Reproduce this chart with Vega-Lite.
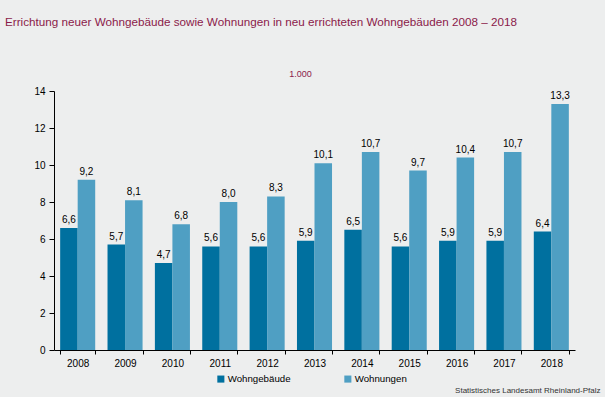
{
  "$schema": "https://vega.github.io/schema/vega-lite/v6.json",
  "width": 521,
  "height": 259,
  "autosize": {"type": "none"},
  "padding": {"left": 54, "top": 91, "right": 30, "bottom": 47},
  "background": "#edeeee",
  "title": {
    "text": "Errichtung neuer Wohngebäude sowie Wohnungen in neu errichteten Wohngebäuden 2008 – 2018",
    "anchor": "start",
    "frame": "group",
    "dx": -49,
    "offset": 40,
    "font": "Liberation Sans",
    "fontSize": 11.7,
    "fontWeight": "normal",
    "color": "#8b1a4a"
  },
  "data": {
    "values": [
      {"Jahr": "2008", "Serie": "Wohngebäude", "Wert": 6.6},
      {"Jahr": "2008", "Serie": "Wohnungen", "Wert": 9.2},
      {"Jahr": "2009", "Serie": "Wohngebäude", "Wert": 5.7},
      {"Jahr": "2009", "Serie": "Wohnungen", "Wert": 8.1},
      {"Jahr": "2010", "Serie": "Wohngebäude", "Wert": 4.7},
      {"Jahr": "2010", "Serie": "Wohnungen", "Wert": 6.8},
      {"Jahr": "2011", "Serie": "Wohngebäude", "Wert": 5.6},
      {"Jahr": "2011", "Serie": "Wohnungen", "Wert": 8.0},
      {"Jahr": "2012", "Serie": "Wohngebäude", "Wert": 5.6},
      {"Jahr": "2012", "Serie": "Wohnungen", "Wert": 8.3},
      {"Jahr": "2013", "Serie": "Wohngebäude", "Wert": 5.9},
      {"Jahr": "2013", "Serie": "Wohnungen", "Wert": 10.1},
      {"Jahr": "2014", "Serie": "Wohngebäude", "Wert": 6.5},
      {"Jahr": "2014", "Serie": "Wohnungen", "Wert": 10.7},
      {"Jahr": "2015", "Serie": "Wohngebäude", "Wert": 5.6},
      {"Jahr": "2015", "Serie": "Wohnungen", "Wert": 9.7},
      {"Jahr": "2016", "Serie": "Wohngebäude", "Wert": 5.9},
      {"Jahr": "2016", "Serie": "Wohnungen", "Wert": 10.4},
      {"Jahr": "2017", "Serie": "Wohngebäude", "Wert": 5.9},
      {"Jahr": "2017", "Serie": "Wohnungen", "Wert": 10.7},
      {"Jahr": "2018", "Serie": "Wohngebäude", "Wert": 6.4},
      {"Jahr": "2018", "Serie": "Wohnungen", "Wert": 13.3}
    ]
  },
  "encoding": {
    "x": {
      "field": "Jahr",
      "type": "nominal",
      "scale": {"paddingInner": 0.26, "paddingOuter": 0.13},
      "axis": {
        "title": "Statistisches Landesamt Rheinland-Pfalz",
        "titleX": 546,
        "titleY": 40,
        "titleAlign": "right",
        "titleBaseline": "middle",
        "titleFont": "Liberation Sans",
        "titleFontSize": 8,
        "titleFontWeight": "normal",
        "titleColor": "#333333",
        "labelAngle": 0,
        "labelFont": "Liberation Sans",
        "labelFontSize": 10,
        "labelColor": "#000000",
        "labelPadding": 4,
        "tickBand": "extent",
        "tickSize": 4,
        "tickColor": "#000000",
        "domainColor": "#000000",
        "grid": false
      }
    },
    "xOffset": {"field": "Serie", "type": "nominal", "sort": ["Wohngebäude", "Wohnungen"]},
    "y": {
      "field": "Wert",
      "type": "quantitative",
      "scale": {"domain": [0, 14]},
      "axis": {
        "values": [0, 2, 4, 6, 8, 10, 12, 14],
        "title": "1.000",
        "titleAngle": 0,
        "titleX": 246,
        "titleY": -18,
        "titleAlign": "center",
        "titleBaseline": "middle",
        "titleFont": "Liberation Sans",
        "titleFontSize": 9,
        "titleFontWeight": "normal",
        "titleColor": "#8b1a4a",
        "labelFont": "Liberation Sans",
        "labelFontSize": 10,
        "labelColor": "#000000",
        "labelPadding": 4,
        "tickSize": 5,
        "tickColor": "#000000",
        "domainColor": "#000000",
        "grid": false
      }
    }
  },
  "layer": [
    {
      "mark": {"type": "bar"},
      "encoding": {
        "color": {
          "field": "Serie",
          "type": "nominal",
          "scale": {"domain": ["Wohngebäude", "Wohnungen"], "range": ["#00709f", "#4f9fc3"]},
          "legend": {
            "title": null,
            "orient": "none",
            "direction": "horizontal",
            "legendX": 162,
            "legendY": 283,
            "symbolType": "square",
            "symbolSize": 50,
            "symbolStrokeWidth": 0,
            "labelFont": "Liberation Sans",
            "labelFontSize": 9.7,
            "labelColor": "#000000",
            "labelOffset": 2,
            "columnPadding": 52
          }
        }
      }
    },
    {
      "mark": {"type": "text", "baseline": "bottom", "dy": -3, "font": "Liberation Sans", "fontSize": 10, "color": "#000000"},
      "encoding": {
        "text": {"field": "Wert", "type": "quantitative", "format": ".1f"}
      }
    }
  ],
  "config": {
    "locale": {"number": {"decimal": ",", "thousands": ".", "grouping": [3], "currency": ["", " €"]}},
    "view": {"stroke": null}
  }
}
